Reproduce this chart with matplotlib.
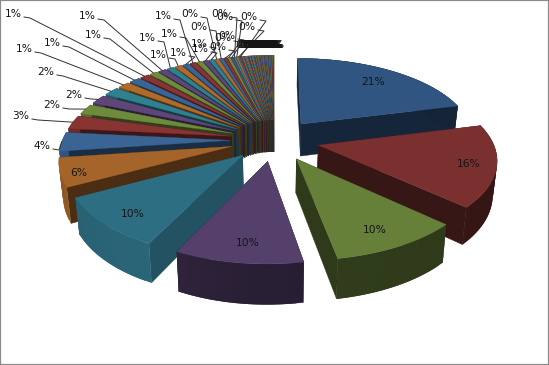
import numpy as np
import matplotlib
matplotlib.use('Agg')
import matplotlib.pyplot as plt
from matplotlib.patches import Polygon, Rectangle

# --- Data (percent shares, clockwise from 12 o'clock) ---
big_shares = [21.0, 16.0, 10.2, 10.1, 10.0, 5.6, 3.7, 2.7, 2.0, 1.8, 1.7]
one_shares = [1.3, 1.2, 1.0, 0.9, 0.85, 0.8, 0.75, 0.7, 0.65, 0.6, 0.55, 0.52]
low_shares = [0.45, 0.4, 0.35, 0.3, 0.25, 0.22, 0.2, 0.18, 0.15]
tiny_shares = [0.12, 0.12, 0.11, 0.11, 0.1, 0.1, 0.1, 0.09, 0.09, 0.09,
               0.08, 0.08, 0.08, 0.08, 0.08, 0.07, 0.07, 0.07, 0.07, 0.07,
               0.07, 0.07, 0.07, 0.06, 0.06, 0.06, 0.06, 0.06, 0.06, 0.06,
               0.06, 0.05, 0.05, 0.05, 0.05, 0.05, 0.05, 0.05, 0.05, 0.04]
shares = big_shares + one_shares + low_shares + tiny_shares

# --- Layout (pixels) ---
W, H = 549, 365
cx, cy = 274, 140
rx_right, rx_left, ry = 174, 168, 80
persp = 0.15
explode = 0.26
drop = 33

label_xy = [(373, 82), (469, 164), (375, 230), (248, 243), (133, 214), (79, 173),
            (42, 146), (21, 116), (52, 105), (74, 95), (46, 72),
            (24, 49), (52, 43), (13, 14), (93, 35), (87, 16), (147, 38),
            (158, 55), (178, 53), (163, 16), (169, 34), (199, 44), (200, 49),
            (190, 14), (199, 27), (218, 47), (223, 38), (227, 36),
            (220, 14), (225, 17), (247, 27), (249, 17)]
inside = 6

big_colors = ['#2F5580', '#7B3030', '#66803A', '#54406B', '#2E6E82', '#A5652A']
tail_colors = ['#3A6494', '#873433', '#6E8B3D', '#5D4778', '#2F8090', '#AE6B2A']


def project(u, v):
    w = 1 + persp * v
    rx = rx_right if u >= 0 else rx_left
    return cx + rx * u / w, cy - ry * v / w, w


def lower(x, y, w):
    return cx + (x - cx) * 0.98, y + drop / w


def shade(col, f):
    return tuple(c * f for c in matplotlib.colors.to_rgb(col))


def arc_shade(deg):
    return np.interp(deg, [90, 180, 206, 207, 270, 360], [0.42, 0.48, 0.55, 0.92, 0.85, 0.5])


fig = plt.figure(figsize=(W / 100, H / 100), dpi=100)
ax = fig.add_axes([0, 0, 1, 1])
ax.set_xlim(0, W)
ax.set_ylim(H, 0)
ax.axis('off')

total = sum(shares)
edges = np.cumsum([0] + shares) / total * 360
slices = []
for i, s in enumerate(shares):
    a0, a1 = edges[i], edges[i + 1]
    mid = np.radians((a0 + a1) / 2)
    slices.append((np.cos(mid), i, a0, a1, mid))

arc_ends = {}
for v_mid, i, a0, a1, mid in sorted(slices, key=lambda t: -t[0]):
    col = big_colors[i] if i < inside else tail_colors[i % 6]
    du, dv = explode * np.sin(mid), explode * np.cos(mid)
    degs = np.linspace(a0, a1, max(int((a1 - a0) / 2) + 2, 2))
    top = [project(du + np.sin(np.radians(d)), dv + np.cos(np.radians(d))) for d in degs]
    apex = project(du, dv)
    bot = [lower(*p) for p in top]
    apex_b = lower(*apex)

    # radial walls
    wall_f = 0.75 if i == 4 else 0.45
    for p, b in ((top[0], bot[0]), (top[-1], bot[-1])):
        c = shade(col, wall_f)
        ax.add_patch(Polygon([apex[:2], p[:2], b, apex_b], fc=c, ec=c, lw=0.3))
    # outer wall, shaded by direction; each piece runs under the next so no seams show
    for j in range(len(top) - 1):
        n = min(j + 2, len(top) - 1)
        c = shade(col, arc_shade((degs[j] + degs[j + 1]) / 2))
        ax.add_patch(Polygon([top[j][:2], top[n][:2], bot[n], bot[j]], fc=c, ec='none', lw=0))
    # top face
    ax.add_patch(Polygon([apex[:2]] + [p[:2] for p in top], fc=col, ec=col, lw=0.2))

    arc_ends[i] = project(du + np.sin(mid), dv + np.cos(mid))[:2]

# --- Labels and leader lines ---
for i, s in enumerate(shares):
    txt = f'{s / total * 100:.0f}%'
    if i < len(label_xy):
        x, y = label_xy[i]
        if i >= inside:
            ex, ey = arc_ends[i]
            sx = x + 11
            ax.plot([sx, sx + 6, ex], [y + 3, y + 4, ey], color='#303030', lw=0.7, zorder=5)
    else:
        x, y = arc_ends[i][0] + 2, 45
    ax.text(x, y, txt, ha='center', va='center', fontsize=7.7, color='#151515',
            family='DejaVu Sans', zorder=6)

fig.add_artist(Rectangle((0, 0), 1, 1, transform=fig.transFigure, fill=False, ec='#8a8a8a', lw=1.6))
plt.savefig('out.png', dpi=100)
